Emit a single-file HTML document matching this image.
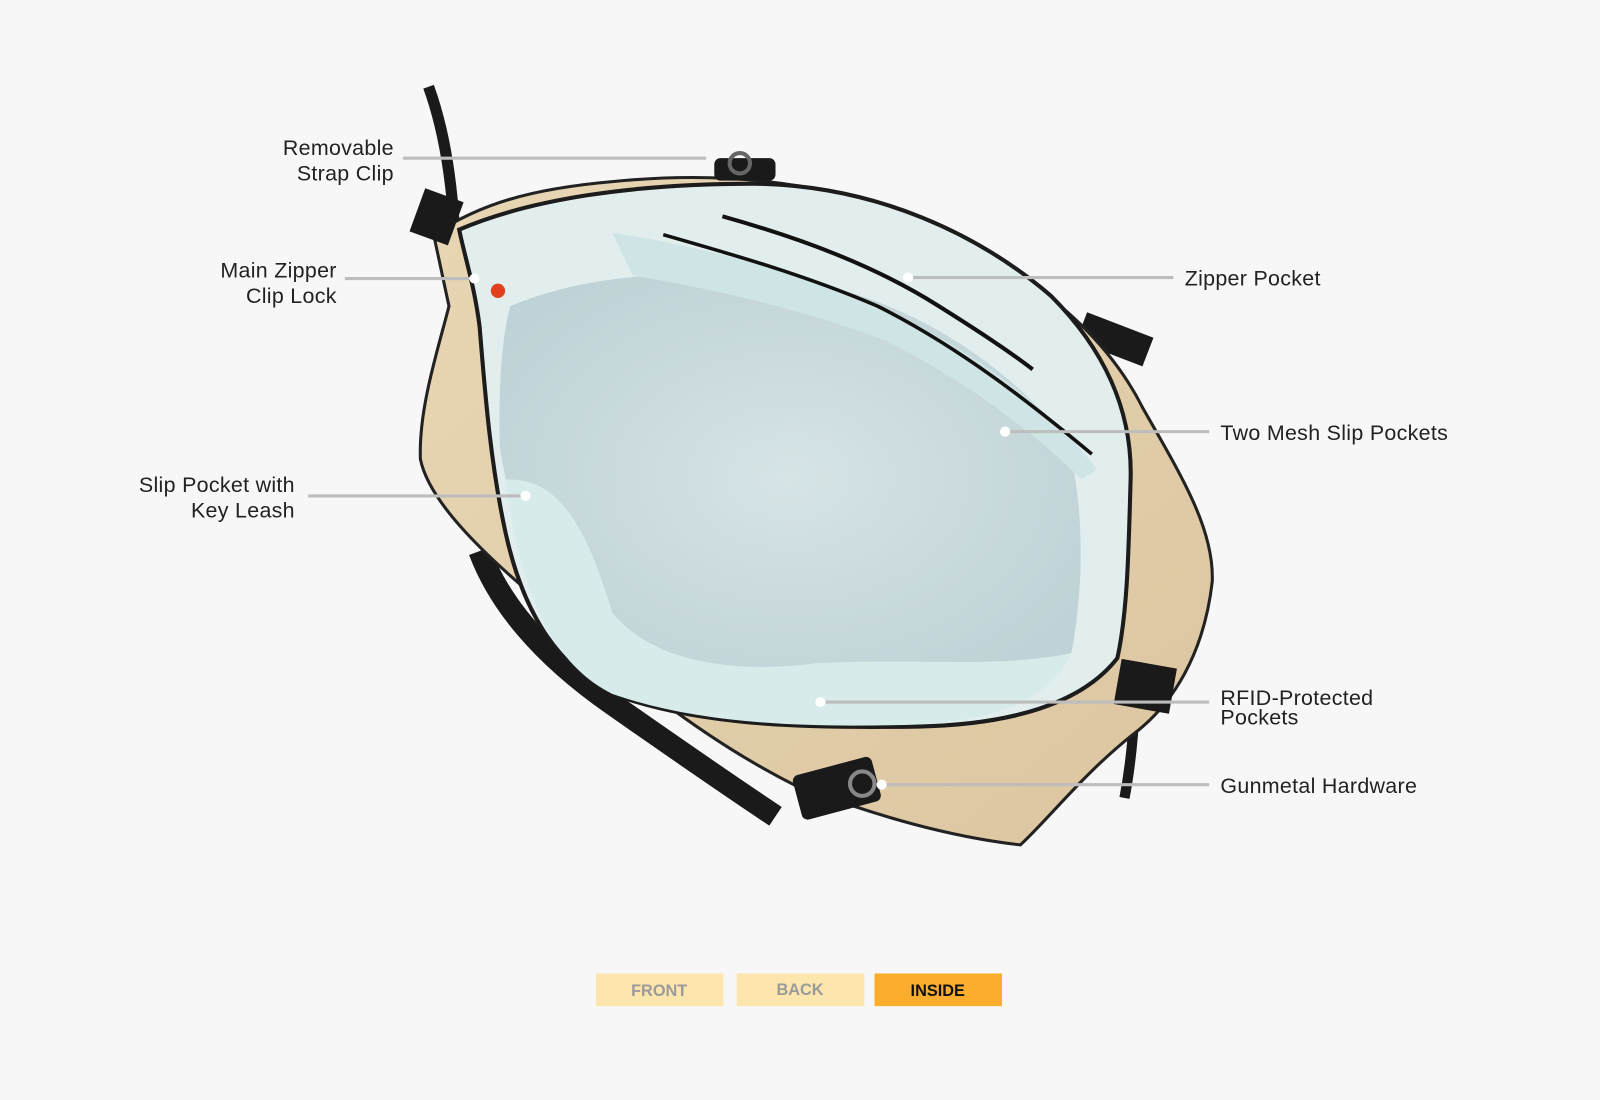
<!DOCTYPE html>
<html><head><meta charset="utf-8"><style>
html,body{margin:0;padding:0;background:#f7f7f7;}
svg{display:block}
text{font-family:"Liberation Sans",sans-serif;}
</style></head><body>
<svg width="1600" height="1100" viewBox="0 0 1568 1078" preserveAspectRatio="none" xmlns="http://www.w3.org/2000/svg">
<defs>
<linearGradient id="tan" x1="0" y1="0" x2="1" y2="1"><stop offset="0" stop-color="#e8d6b4"/><stop offset="1" stop-color="#dcc6a0"/></linearGradient>
<radialGradient id="floor" cx="0.5" cy="0.5" r="0.6"><stop offset="0" stop-color="#d6e4e6"/><stop offset="1" stop-color="#bfd2d5"/></radialGradient>
</defs>
<rect width="1568" height="1078" fill="#f7f7f7"/>
<!-- straps -->
<path d="M420 85 Q440 140 445 220" stroke="#1a1a1a" stroke-width="11" fill="none"/>
<path d="M470 540 Q500 620 600 690 Q700 760 760 800" stroke="#1a1a1a" stroke-width="22" fill="none"/>
<path d="M1060 320 L1125 345" stroke="#1a1a1a" stroke-width="30" fill="none"/>
<path d="M1112 690 Q1110 740 1102 782" stroke="#1a1a1a" stroke-width="10" fill="none"/>
<!-- bag body -->
<path d="M425 230 C470 200 520 185 600 178 C700 168 800 175 900 215 C1000 260 1080 320 1120 400 C1160 470 1190 520 1188 570 C1180 640 1150 690 1110 720 C1060 760 1030 800 1000 828 C930 820 860 800 780 770 C680 720 600 650 530 590 C470 540 420 490 412 450 C410 400 430 340 440 300 Z" fill="url(#tan)" stroke="#222" stroke-width="3"/>
<!-- lining -->
<path d="M450 225 C520 195 620 180 740 180 C860 182 960 230 1030 290 C1080 340 1110 400 1108 470 C1106 540 1105 600 1095 645 C1060 690 990 710 900 712 C780 714 680 710 600 680 C540 650 510 590 495 520 C480 450 475 380 470 320 C465 280 455 250 450 225 Z" fill="#e2eeee" stroke="#1c1c1c" stroke-width="4"/>
<path d="M500 300 C560 275 640 262 760 272 C880 285 980 350 1045 430 C1060 480 1065 560 1050 640 C990 665 900 670 800 665 C700 660 620 650 560 600 C520 560 500 500 490 440 C488 380 492 330 500 300 Z" fill="url(#floor)"/>
<path d="M495 470 C540 468 570 500 600 600 C640 650 720 660 800 650 C900 645 980 655 1050 640 C1030 680 990 705 900 710 C780 714 680 708 600 680 C540 650 510 580 495 470 Z" fill="#d7ebeb"/>
<path d="M600 228 C680 240 780 265 860 300 C950 340 1030 400 1075 460 L1060 470 C1010 420 940 370 870 335 C780 300 680 280 620 270 Z" fill="#cfe4e4"/>
<path d="M708 212 C790 235 860 262 920 300 C960 325 990 345 1012 362" stroke="#111" stroke-width="4" fill="none"/>
<path d="M650 230 C720 250 790 270 860 300 C940 340 1010 395 1070 445" stroke="#111" stroke-width="3.5" fill="none"/>
<!-- hardware -->
<rect x="408" y="190" width="40" height="45" fill="#1a1a1a" transform="rotate(20 428 212)"/>
<rect x="700" y="155" width="60" height="22" rx="6" fill="#1a1a1a"/>
<circle cx="725" cy="160" r="10" fill="none" stroke="#666" stroke-width="4"/>
<rect x="780" y="750" width="80" height="45" rx="6" fill="#1a1a1a" transform="rotate(-15 820 772)"/>
<circle cx="845" cy="768" r="12" fill="none" stroke="#888" stroke-width="4"/>
<rect x="1095" y="650" width="55" height="45" fill="#1a1a1a" transform="rotate(10 1122 672)"/>
<circle cx="488" cy="285" r="7" fill="#e2401c"/>
<!-- connectors -->
<g stroke="#bdbdbd" stroke-width="3" fill="none">
<line x1="395" y1="155" x2="692" y2="155"/>
<line x1="338" y1="273" x2="465" y2="273"/>
<line x1="890" y1="272" x2="1150" y2="272"/>
<line x1="985" y1="423" x2="1185" y2="423"/>
<line x1="302" y1="486" x2="515" y2="486"/>
<line x1="804" y1="688" x2="1185" y2="688"/>
<line x1="864" y1="769" x2="1185" y2="769"/>
</g>
<g fill="#fff">
<circle cx="465" cy="273" r="5"/><circle cx="890" cy="272" r="5"/><circle cx="985" cy="423" r="5"/>
<circle cx="515" cy="486" r="5"/><circle cx="804" cy="688" r="5"/><circle cx="864" cy="769" r="5"/>
</g>
<!-- labels -->
<g font-size="21" fill="#222" letter-spacing="0.3">
<text x="386" y="152" text-anchor="end">Removable</text>
<text x="386" y="177" text-anchor="end">Strap Clip</text>
<text x="330" y="272" text-anchor="end">Main Zipper</text>
<text x="330" y="297" text-anchor="end">Clip Lock</text>
<text x="289" y="482" text-anchor="end">Slip Pocket with</text>
<text x="289" y="507" text-anchor="end">Key Leash</text>
<text x="1161" y="280">Zipper Pocket</text>
<text x="1196" y="431">Two Mesh Slip Pockets</text>
<text x="1196" y="691">RFID-Protected</text>
<text x="1196" y="710">Pockets</text>
<text x="1196" y="777">Gunmetal Hardware</text>
</g>
<!-- tabs -->
<rect x="584" y="954" width="125" height="32" fill="#fde6ad"/>
<rect x="722" y="954" width="125" height="32" fill="#fde6ad"/>
<rect x="857" y="954" width="125" height="32" fill="#fbad2e"/>
<g font-size="16" font-weight="bold" text-anchor="middle">
<text x="646" y="976" fill="#9a9a9a">FRONT</text>
<text x="784" y="975" fill="#9a9a9a">BACK</text>
<text x="919" y="976" fill="#111">INSIDE</text>
</g>
</svg>
</body></html>
